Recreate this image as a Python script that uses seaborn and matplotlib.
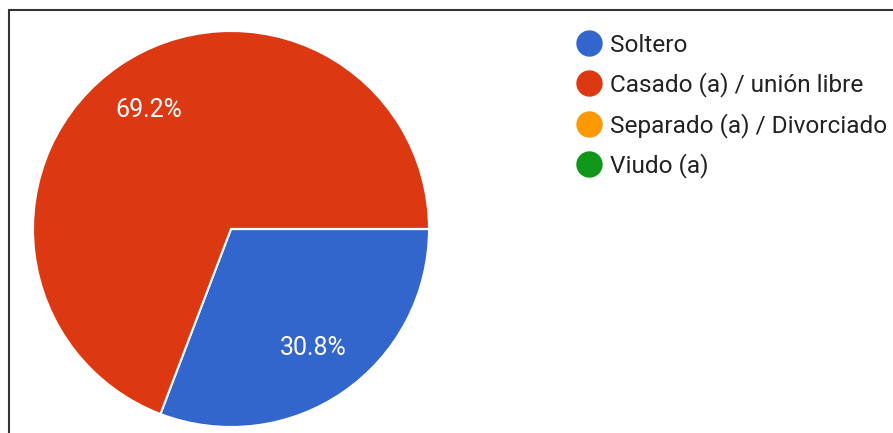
import matplotlib
matplotlib.use("Agg")
import matplotlib.pyplot as plt
import seaborn as sns
from matplotlib.lines import Line2D

# datos del grafico
categorias = ["Soltero", "Casado (a) / unión libre", "Separado (a) / Divorciado", "Viudo (a)"]
porcentajes = [30.8, 69.2, 0.0, 0.0]
colores = ["#3366cc", "#dc3912", "#ff9900", "#109618"]

sns.set_theme(style="white")
plt.rcParams["font.family"] = ["Roboto", "DejaVu Sans"]
paleta = sns.color_palette(colores)

W, H = 893, 433
fig = plt.figure(figsize=(W / 100, H / 100), dpi=100)

# pie: centro (231, 229), radio 198 px
cx, cy, r = 231, 229, 198
ax = fig.add_axes([(cx - r) / W, (H - cy - r) / H, 2 * r / W, 2 * r / H])
ax.pie(
    porcentajes,
    colors=paleta,
    startangle=0,
    counterclock=False,
    autopct=lambda p: f"{p:.1f}%" if p > 0.5 else "",
    pctdistance=0.73,
    wedgeprops=dict(edgecolor="white", linewidth=1.5),
    textprops=dict(color="white", fontsize=18),
    radius=1.0,
)
ax.set_xlim(-1, 1)
ax.set_ylim(-1, 1)
ax.set_aspect("equal")
ax.axis("off")

# leyenda
fs = 17.6
handles = [Line2D([], [], marker="o", linestyle="none", markersize=18,
                  markerfacecolor=c, markeredgecolor=c) for c in paleta]
fig.legend(handles, categorias, loc="upper left",
           bbox_to_anchor=(576.3 / W, 1 - 33.5 / H),
           frameon=False, fontsize=fs, handlelength=1.0, handletextpad=0.38,
           labelspacing=0.64, borderpad=0, borderaxespad=0, labelcolor="#222222")

# marco de la captura
fig.add_artist(Line2D([9 / W, 1], [1 - 10 / H, 1 - 10 / H], color="#333333", linewidth=1.5))
fig.add_artist(Line2D([9 / W, 9 / W], [0, 1 - 10 / H], color="#333333", linewidth=1.5))

fig.savefig("out.png", dpi=100, facecolor="white")
